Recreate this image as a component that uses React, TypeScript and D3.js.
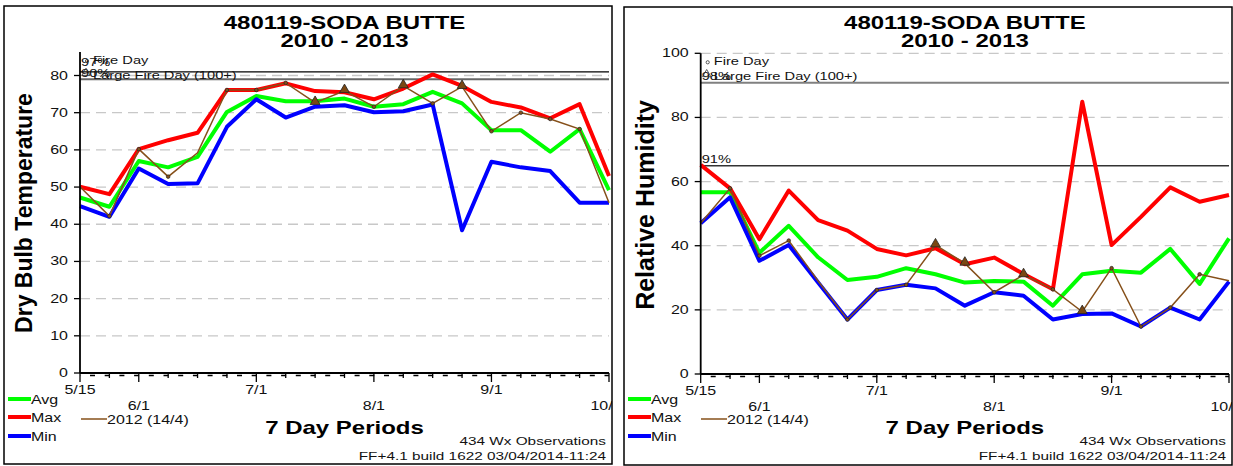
import React from "react";
import * as d3 from "d3";

// horizontal stretch of the original screenshot (text looks wide)
const SX = 1.333;
const FONT = "Liberation Sans, Arial, sans-serif";

const tickLabels = ["5/15", "6/1", "7/1", "8/1", "9/1", "10/1"];
const tickIndex = [0, 2, 6, 10, 14, 18];
const nWeeks = 19;

// 0 = none, 1 = fire day, 2 = large fire day (100+)
const fire2012 = [0, 1, 1, 1, 0, 1, 1, 1, 2, 2, 1, 2, 1, 2, 1, 1, 1, 1, 0];

const tempAvg = [47.2, 44.7, 57, 55.3, 58.1, 70.2, 74.5, 73.1, 73.1, 73.8, 71.6, 72.3, 75.6, 72.5, 65.3, 65.3, 59.5, 65.6, 49.2];
const tempMax = [50.1, 48.1, 60.2, 62.6, 64.6, 76.1, 76.1, 77.9, 75.8, 75.5, 73.6, 76.5, 80.3, 77.2, 72.9, 71.4, 68.5, 72.3, 53];
const tempMin = [44.9, 42, 55, 50.8, 51, 66.2, 73.6, 68.7, 71.6, 72, 70.1, 70.4, 72.2, 38.4, 56.8, 55.3, 54.3, 45.8, 45.8];
const temp2012 = [50.1, 42.2, 60.2, 52.8, 59.2, 76.1, 76.1, 78, 72.7, 75.9, 71.6, 77.2, 72.5, 77, 65, 70, 68.3, 65.6, 45.8];
const tempTicks = [0, 10, 20, 30, 40, 50, 60, 70, 80];
const tempPct = [81, 79];
const tempPctLabels = ["97%", "90%"];

const rhAvg = [56.7, 56.7, 37.8, 46.2, 36.4, 29.3, 30.3, 33, 31.1, 28.5, 29, 28.8, 21.3, 31.1, 32.2, 31.6, 39, 28.1, 42.3];
const rhMax = [65.2, 57.9, 42, 57.2, 48, 44.7, 39, 37, 39.2, 34.2, 36.3, 31.2, 26.4, 84.9, 40.2, 49, 58.2, 53.7, 55.8];
const rhMin = [47, 55.1, 35.3, 40.2, 28.5, 17, 26.2, 27.8, 26.7, 21.3, 25.5, 24.4, 17, 18.7, 18.9, 14.8, 20.7, 17, 28.8];
const rh2012 = [47, 57.9, 36.9, 41.6, 29, 17, 26.2, 27.8, 40.2, 34.5, 25.5, 30.9, 26.4, 19.4, 33, 14.8, 20.7, 31.1, 29.1];
const rhTicks = [0, 20, 40, 60, 80, 100];
const rhPct = [90.8, 64.9];
const rhPctLabels = ["98%", "91%"];

const GREEN = "#00ff00";
const RED = "#ff0000";
const BLUE = "#0000ff";
const BROWN = "#86501a";

function T({ x, y, size = 11.5, weight = "normal", anchor = "start", fill = "#111", rotate = 0, sx = SX, children }: any) {
  return (
    <text
      transform={`translate(${x},${y}) scale(${sx},1)${rotate ? ` rotate(${rotate})` : ""}`}
      fontFamily={FONT}
      fontSize={size}
      fontWeight={weight}
      textAnchor={anchor}
      fill={fill}
    >
      {children}
    </text>
  );
}

function Panel(props: any) {
  const { id, px, py, pw, ph, x0, x1, y0, yTopPx, yMax, axisTop, ticks, pct, pctLabels, pctStyle, avg, max, min, y2012 } = props;
  const x = d3.scaleLinear().domain([0, nWeeks - 1]).range([x0, x1]);
  const y = d3.scaleLinear().domain([0, yMax]).range([y0, yTopPx]);
  const line = d3.line<number>().x((d, i) => x(i)).y((d) => y(d));
  const cx = (x0 + x1) / 2;

  return (
    <g>
      <defs>
        <clipPath id={id}>
          <rect x={px} y={py} width={pw} height={ph} />
        </clipPath>
      </defs>
      <g clipPath={`url(#${id})`}>
        <rect x={px} y={py} width={pw} height={ph} fill="#fff" />

        {/* grid */}
        {ticks.filter((t: number) => t > 0).map((t: number) => (
          <line key={t} x1={x0} x2={x1} y1={y(t)} y2={y(t)} stroke="#c8c8c8" strokeWidth={1.3} strokeDasharray="10,6" />
        ))}

        {/* percentile lines */}
        {pct.map((v: number, i: number) => (
          <line key={i} x1={x0} x2={x1} y1={y(v)} y2={y(v)} stroke={pctStyle[i].stroke} strokeWidth={pctStyle[i].w} />
        ))}
        {pct.map((v: number, i: number) => (
          <T key={i} x={x0 + 1} y={y(v) - pctStyle[i].dy} size={11}>{pctLabels[i]}</T>
        ))}

        {/* fire day legend inside plot */}
        <circle cx={x0 + 7} cy={axisTop + 9} r={1.6} fill="none" stroke="#333" strokeWidth={0.8} />
        <T x={x0 + 13} y={axisTop + 12} size={11}>Fire Day</T>
        <path d={d3.symbol(d3.symbolTriangle, 30)()!} transform={`translate(${x0 + 6},${axisTop + 21})`} fill="none" stroke="#333" strokeWidth={0.8} />
        <T x={x0 + 13} y={axisTop + 27} size={11}>Large Fire Day (100+)</T>

        {/* series */}
        <path d={line(avg)!} fill="none" stroke={GREEN} strokeWidth={4} strokeLinejoin="round" />
        <path d={line(max)!} fill="none" stroke={RED} strokeWidth={4} strokeLinejoin="round" />
        <path d={line(min)!} fill="none" stroke={BLUE} strokeWidth={4} strokeLinejoin="round" />
        <path d={line(y2012)!} fill="none" stroke={BROWN} strokeWidth={1.5} />
        {y2012.map((d: number, i: number) =>
          fire2012[i] === 1 ? (
            <circle key={i} cx={x(i)} cy={y(d)} r={1.8} fill={BROWN} stroke="#222" strokeWidth={0.7} />
          ) : fire2012[i] === 2 ? (
            <path key={i} d={d3.symbol(d3.symbolTriangle, 42)()!} transform={`translate(${x(i)},${y(d) - 1})`} fill="#7a4712" stroke="#222" strokeWidth={0.8} />
          ) : null
        )}

        {/* axes */}
        <line x1={x0} x2={x0} y1={y0} y2={axisTop} stroke="#000" strokeWidth={1.8} />
        <line x1={x0} x2={x1} y1={y0} y2={y0} stroke="#000" strokeWidth={1.8} />
        <line x1={x0} x2={x1} y1={y0 + 2.5} y2={y0 + 2.5} stroke="#000" strokeWidth={1.3} strokeDasharray="5,9.7" strokeDashoffset={-10} />
        {ticks.map((t: number) => (
          <g key={t}>
            <line x1={x0 - 6} x2={x0} y1={y(t)} y2={y(t)} stroke="#000" strokeWidth={1.3} />
            <T x={x0 - 12} y={y(t) + 4} anchor="end" size={12}>{t}</T>
          </g>
        ))}
        {d3.range(nWeeks).map((i) => (
          <line key={i} x1={x(i)} x2={x(i)} y1={y0} y2={y0 + (tickIndex.includes(i) ? 9 : 5)} stroke="#000" strokeWidth={1.3} />
        ))}
        {tickIndex.map((ti, k) => (
          <T key={ti} x={x(ti) - (k === tickIndex.length - 1 ? 3 : 0)} y={k % 2 === 0 ? y0 + 21 : y0 + 37} anchor="middle" size={12}>{tickLabels[k]}</T>
        ))}

        {/* titles */}
        <T x={cx} y={29} size={18} weight="bold" anchor="middle" fill="#000">480119-SODA BUTTE</T>
        <T x={cx} y={47} size={18} weight="bold" anchor="middle" fill="#000">2010 - 2013</T>
        <T x={props.yTitleX} y={props.yTitleY} size={props.yTitleSize} weight="bold" anchor="middle" fill="#000" rotate={-90} sx={1.05}>{props.yTitle}</T>
        <T x={cx} y={434} size={18} weight="bold" anchor="middle" fill="#000">7 Day Periods</T>
        <T x={px + pw - 6} y={445} anchor="end">434 Wx Observations</T>
        <T x={px + pw - 6} y={460} anchor="end">FF+4.1 build 1622 03/04/2014-11:24</T>

        {/* legend */}
        {[["Avg", GREEN, 399], ["Max", RED, 417], ["Min", BLUE, 436]].map(([lab, c, ly]: any) => (
          <g key={lab}>
            <line x1={px + 4} x2={px + 27} y1={ly} y2={ly} stroke={c} strokeWidth={4} />
            <T x={px + 27} y={ly + 5} size={12}>{lab}</T>
          </g>
        ))}
        <line x1={px + 77} x2={px + 103} y1={419} y2={419} stroke={BROWN} strokeWidth={1.5} />
        <T x={px + 103} y={424} size={12}>2012 (14/4)</T>
      </g>
      <rect x={px} y={py} width={pw} height={ph} fill="none" stroke="#000" strokeWidth={1.5} />
    </g>
  );
}

export default function App() {
  return (
    <div style={{ position: "absolute", left: 0, top: 0 }}>
      <svg width={1233} height={466} style={{ display: "block", background: "#fff" }}>
        <Panel
          id="clipL" px={4} py={6} pw={608} ph={458}
          x0={80} x1={609} y0={373} yTopPx={75.5} yMax={80} axisTop={52}
          ticks={tempTicks} pct={tempPct} pctLabels={tempPctLabels}
          pctStyle={[{ stroke: "#000", w: 1.2, dy: 6 }, { stroke: "#666", w: 2, dy: 2 }]}
          avg={tempAvg} max={tempMax} min={tempMin} y2012={temp2012}
          yTitle="Dry Bulb Temperature" yTitleX={32} yTitleY={213} yTitleSize={23}
        />
        <Panel
          id="clipR" px={624} py={7} pw={608} ph={458}
          x0={700.7} x1={1229} y0={374} yTopPx={53.3} yMax={100} axisTop={53.3}
          ticks={rhTicks} pct={rhPct} pctLabels={rhPctLabels}
          pctStyle={[{ stroke: "#808080", w: 2, dy: 3 }, { stroke: "#333", w: 1.5, dy: 3 }]}
          avg={rhAvg} max={rhMax} min={rhMin} y2012={rh2012}
          yTitle="Relative Humidity" yTitleX={654} yTitleY={205} yTitleSize={25}
        />
      </svg>
    </div>
  );
}
